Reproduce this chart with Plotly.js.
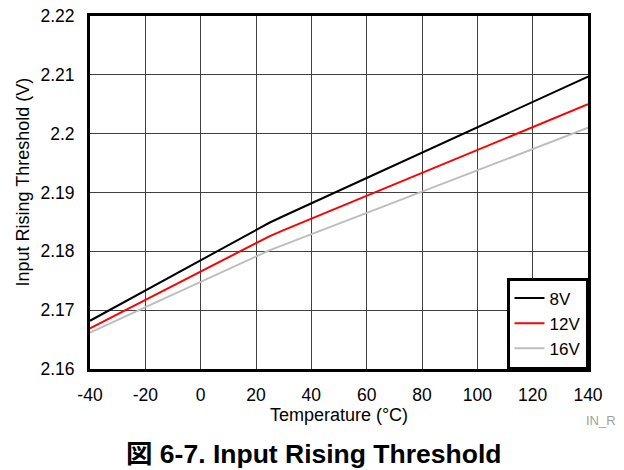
<!DOCTYPE html>
<html><head><meta charset="utf-8">
<script src="https://cdn.plot.ly/plotly-3.0.1.min.js"></script>
<style>body{margin:0;padding:0;background:#fff}#chart{width:624px;height:470px}</style>
</head><body><div id="chart"></div>
<script>
const temps = [-40, 0, 20, 25, 30, 140];
const v8 = [2.1682, 2.1785, 2.1836, 2.1849, 2.1860, 2.2097];
const v12 = [2.1669, 2.1766, 2.1815, 2.1826, 2.1836, 2.2050];
const v16 = [2.1662, 2.1748, 2.1791, 2.1802, 2.1811, 2.2010];
const seriesNames = ['8V', '12V', '16V'];
const xTicks = [-40, -20, 0, 20, 40, 60, 80, 100, 120, 140];
const yTicks = [2.16, 2.17, 2.18, 2.19, 2.2, 2.21, 2.22];
const yTickText = ['2.16', '2.17', '2.18', '2.19', '2.2', '2.21', '2.22'];

const colors = ['#000000', '#ff0000', '#bdbdbd'];
const data = [v8, v12, v16].map((v, i) => ({
  x: temps, y: v, name: seriesNames[i], type: 'scatter', mode: 'lines',
  line: {color: colors[i], width: 2}
}));
const fam = 'Liberation Sans, Arial, sans-serif';
const L = 89.5, T = 16, W = 498.5, H = 353;
const px = x => (x - L) / W, py = y => (T + H - y) / H;
const layout = {
  width: 624, height: 470,
  margin: {l: L, r: 624 - L - W, t: T, b: 470 - T - H},
  paper_bgcolor: '#fff', plot_bgcolor: '#fff',
  font: {family: fam, size: 17.5, color: '#000'},
  showlegend: true,
  legend: {x: 1, xanchor: 'right', y: 0, yanchor: 'bottom', bordercolor: '#000', borderwidth: 2.5,
    bgcolor: '#fff', font: {family: fam, size: 17, color: '#000'}, tracegroupgap: 0},
  xaxis: {range: [-40, 140], tickvals: xTicks, ticktext: xTicks.map(String), showgrid: true,
    gridcolor: '#404040', gridwidth: 1, zeroline: false, showline: true, linecolor: '#000',
    linewidth: 3, mirror: true, ticks: '', ticklabelstandoff: 8,
    title: {text: 'Temperature (°C)', font: {family: fam, size: 18, color: '#000'}, standoff: 2}},
  yaxis: {range: [2.16, 2.22], tickvals: yTicks, ticktext: yTickText, showgrid: true,
    gridcolor: '#404040', gridwidth: 1, zeroline: false, showline: true, linecolor: '#000',
    linewidth: 3, mirror: true, ticks: '', ticklabelstandoff: 9},
  annotations: [
    {text: 'Input Rising Threshold (V)', xref: 'paper', yref: 'paper', x: px(22), y: py(182),
      xanchor: 'center', yanchor: 'middle',
      textangle: -90, showarrow: false, font: {family: fam, size: 18, color: '#000'}},
    {text: 'IN_R', xref: 'paper', yref: 'paper', x: px(601), y: py(420), xanchor: 'center', yanchor: 'middle',
      showarrow: false, font: {family: fam, size: 13, color: '#a0a0a0'}},
    {text: '<b>図 6-7. Input Rising Threshold</b>', xref: 'paper', yref: 'paper',
      x: px(313), y: py(454), xanchor: 'center', yanchor: 'middle', showarrow: false,
      font: {family: 'Liberation Sans, Noto Sans CJK JP, sans-serif', size: 26.5, color: '#000'}}
  ]
};
Plotly.newPlot('chart', data, layout, {staticPlot: true});
</script></body></html>
